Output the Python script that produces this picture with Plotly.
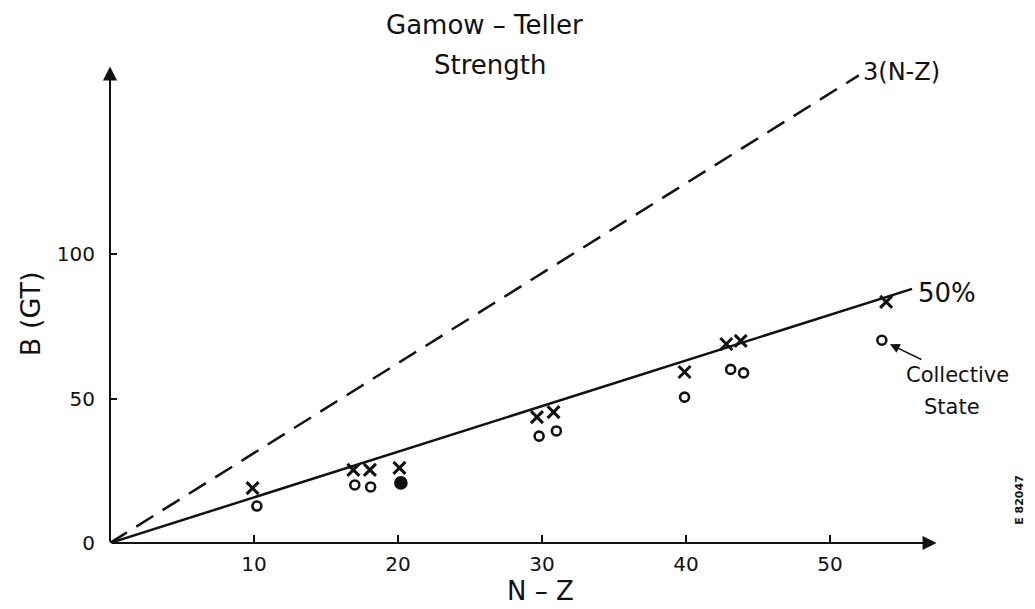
import plotly.graph_objects as go

# ---- data ----
# Measured Gamow-Teller strength (crosses)
nz_cross = [9.9, 16.9, 18.05, 20.1, 29.65, 30.8, 39.9, 42.8, 43.8, 53.9]
bgt_cross = [19.0, 25.3, 25.3, 26.0, 43.6, 45.3, 59.2, 68.9, 70.0, 83.5]
# Collective state strength (circles; one drawn filled)
nz_circle = [10.2, 17.0, 18.1, 20.2, 29.8, 31.0, 39.9, 43.1, 44.0, 53.6]
bgt_circle = [12.8, 20.1, 19.4, 20.8, 37.0, 38.8, 50.5, 60.1, 58.9, 70.2]
circle_filled = [False, False, False, True, False, False, False, False, False, False]
# Sum-rule line 3(N-Z) (dashed) and 50 % line (solid), as drawn
nz_sumrule = [0, 52.0]
bgt_sumrule = [0, 161.9]
nz_half = [0, 55.7]
bgt_half = [0, 88.0]

x_ticks = [10, 20, 30, 40, 50]
y_ticks = [0, 50, 100]
x_axis_end = 57.4
y_axis_end = 165

FONT = "DejaVu Sans"
INK = "#111111"

fig = go.Figure()

fig.add_trace(go.Scatter(
    x=nz_sumrule, y=bgt_sumrule, mode="lines",
    line=dict(color=INK, width=2.5, dash="20px,11px"),
    hoverinfo="skip", showlegend=False, cliponaxis=False))
fig.add_trace(go.Scatter(
    x=nz_half, y=bgt_half, mode="lines",
    line=dict(color=INK, width=2.5),
    hoverinfo="skip", showlegend=False, cliponaxis=False))
fig.add_trace(go.Scatter(
    x=nz_cross, y=bgt_cross, mode="markers",
    marker=dict(symbol="x-thin", size=12, color=INK, opacity=1,
                line=dict(color=INK, width=3)),
    showlegend=False, cliponaxis=False))
fig.add_trace(go.Scatter(
    x=nz_circle, y=bgt_circle, mode="markers",
    marker=dict(symbol=["circle" if f else "circle-open" for f in circle_filled],
                size=[11 if f else 9 for f in circle_filled], color=INK, opacity=1,
                line=dict(color=INK, width=2.6)),
    showlegend=False, cliponaxis=False))


def ptxt(x, y, text, size, angle=0):
    return dict(x=x, y=y, xref="paper", yref="paper", text=text, showarrow=False,
                xanchor="center", yanchor="middle",
                textangle=angle, font=dict(family=FONT, size=size, color=INK))


annotations = [
    # axis arrows
    dict(x=x_axis_end, y=0, ax=0, ay=0, xref="x", yref="y", axref="x", ayref="y",
         showarrow=True, arrowhead=2, arrowsize=1.4, arrowwidth=2, arrowcolor=INK, text=""),
    dict(x=0, y=y_axis_end, ax=0, ay=0, xref="x", yref="y", axref="x", ayref="y",
         showarrow=True, arrowhead=2, arrowsize=1.4, arrowwidth=2, arrowcolor=INK, text=""),
    # title
    ptxt(0.434, 1.055, "Gamow – Teller", 26),
    ptxt(0.440, 0.973, "Strength", 26),
    # line labels
    ptxt(0.916, 0.960, "3(N-Z)", 24),
    ptxt(0.969, 0.510, "50%", 26),
    # collective state
    ptxt(0.981, 0.342, "Collective", 21),
    ptxt(0.975, 0.277, "State", 21),
    dict(x=nz_circle[-1], y=bgt_circle[-1], xref="x", yref="y", ax=41, ay=20,
         showarrow=True, arrowhead=2, arrowsize=1.3, arrowwidth=1.5, arrowcolor=INK,
         standoff=9, text=""),
    # axis titles
    ptxt(-0.0926, 0.468, "B (GT)", 27, -90),
    ptxt(0.4977, -0.098, "N – Z", 26),
    # figure code
    ptxt(1.053, 0.0876, "<b>E 82047</b>", 11, -90),
]

# The page adds an 8px body margin, so the figure is drawn 8px smaller
fig.update_layout(
    width=1027, height=601,
    margin=dict(l=102, r=61, t=44, b=66),
    paper_bgcolor="white", plot_bgcolor="white",
    showlegend=False,
    annotations=annotations,
    xaxis=dict(range=[0, 60], showgrid=False, zeroline=False, showline=False,
               tickmode="array", tickvals=x_ticks, ticks="inside", ticklen=8,
               tickwidth=2, tickcolor=INK, ticklabelstandoff=7,
               tickfont=dict(family=FONT, size=20, color=INK)),
    yaxis=dict(range=[0, 170], showgrid=False, zeroline=False, showline=False,
               tickmode="array", tickvals=y_ticks, ticks="inside", ticklen=7,
               tickwidth=2, tickcolor=INK, ticklabelstandoff=14,
               tickfont=dict(family=FONT, size=20, color=INK)),
)

fig.write_html("out.html")
